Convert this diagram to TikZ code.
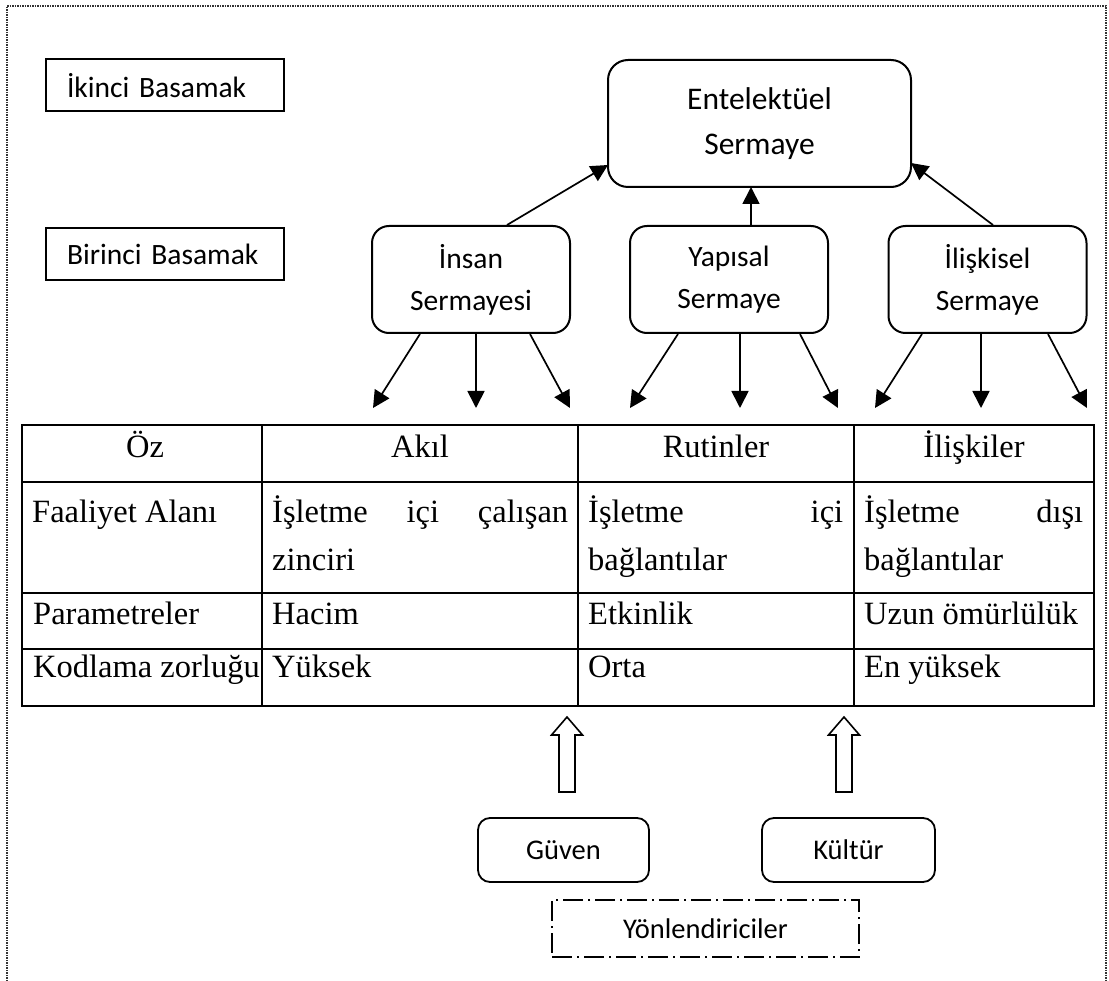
\documentclass[tikz,border=0pt]{standalone}
\usepackage{fontspec}
\setmainfont{Liberation Serif}
\newfontfamily\boxfont{Carlito}
\usetikzlibrary{arrows.meta,calc}
\begin{document}
\begin{tikzpicture}[x=1pt,y=-1pt,
  frameline/.style={line width=1.5pt, black!80, dash pattern=on 1.5pt off 1pt},
  lvlbox/.style={draw, line width=2pt, inner xsep=21pt, inner ysep=0pt,
    text width=196pt, align=left, minimum height=52pt,
    font=\boxfont\fontsize{29.5}{36}\selectfont},
  topbox/.style={draw, line width=2pt, rounded corners=20pt, inner sep=0pt,
    align=center, font=\boxfont\fontsize{31.5}{45}\selectfont},
  capbox/.style={draw, line width=2pt, rounded corners=17pt, inner sep=0pt,
    align=center, minimum width=198pt, minimum height=107pt,
    font=\boxfont\fontsize{29.5}{42}\selectfont},
  drvbox/.style={draw, line width=1.8pt, rounded corners=12pt, inner sep=0pt,
    minimum height=64pt, font=\boxfont\fontsize{28.5}{34}\selectfont},
  groupbox/.style={draw, line width=1.5pt, dash pattern=on 20pt off 5pt on 2pt off 5pt,
    inner sep=0pt, minimum width=307pt, minimum height=57pt,
    font=\boxfont\fontsize{28.5}{34}\selectfont},
  conn/.style={line width=1.7pt, -{Triangle[length=17pt,width=17pt]}},
  grid/.style={line width=2pt},
  cell/.style={anchor=base west, inner sep=0pt, font=\fontsize{32.5}{38}\selectfont},
  hcell/.style={anchor=base, inner sep=0pt, font=\fontsize{32.5}{38}\selectfont},
  blockup/.pic={\draw[line width=1.6pt, line join=miter]
    (-8,0) -- (-8,-57) -- (-15.5,-57) -- (0,-75) -- (15.5,-57) -- (8,-57) -- (8,0) -- cycle;}
]
\useasboundingbox (0,0) rectangle (1109,981);

% page frame
\draw[frameline] (7,981) -- (7,6) -- (1106,6) -- (1106,981);

% level labels
\node[lvlbox] (lvl2) at (165,85.5) {İkinci Basamak};
\node[lvlbox] (lvl1) at (165,254) {Birinci Basamak};

% capital boxes
\node[topbox, minimum width=303pt, minimum height=127pt] (ent) at (759.5,123.5) {Entelektüel\\Sermaye};
\node[capbox] (insan) at (471,279.5) {İnsan\\Sermayesi};
\node[capbox] (yapi) at (729,279.5) {Yapısal\\Sermaye};
\node[capbox] (iliski) at (987.5,279.5) {İlişkisel\\Sermaye};

% arrows towards intellectual capital
\coordinate (e1) at (608,165);
\coordinate (e2) at (751,187);
\coordinate (e3) at (911,163);
\draw[conn] (insan.north -| 507,0) -- (e1);
\draw[conn] (yapi.north -| e2) -- (e2);
\draw[conn] (iliski.north -| 993,0) -- (e3);

% arrows down to the table
\coordinate (a1) at (373,408);
\coordinate (a2) at (476,408);
\coordinate (a3) at (570,408);
\coordinate (b1) at (630,408);
\coordinate (b2) at (740,408);
\coordinate (b3) at (838,408);
\coordinate (c1) at (875,408);
\coordinate (c2) at (981,408);
\coordinate (c3) at (1087,408);
\draw[conn] (insan.south -| 420,0) -- (a1);
\draw[conn] (insan.south -| a2) -- (a2);
\draw[conn] (insan.south -| 530,0) -- (a3);
\draw[conn] (yapi.south -| 678,0) -- (b1);
\draw[conn] (yapi.south -| b2) -- (b2);
\draw[conn] (yapi.south -| 800,0) -- (b3);
\draw[conn] (iliski.south -| 922,0) -- (c1);
\draw[conn] (iliski.south -| c2) -- (c2);
\draw[conn] (iliski.south -| 1048,0) -- (c3);

% table
\draw[grid] (22,425) rectangle (1094,706);
\draw[grid] (22,482) -- (1094,482);
\draw[grid] (22,593) -- (1094,593);
\draw[grid] (22,649) -- (1094,649);
\draw[grid] (262,425) -- (262,706);
\draw[grid] (578,425) -- (578,706);
\draw[grid] (854,425) -- (854,706);

\node[hcell] (h1) at (145,457) {Öz};
\node[hcell] (h2) at (420,457) {Akıl};
\node[hcell] (h3) at (716,457) {Rutinler};
\node[hcell] (h4) at (974,457) {İlişkiler};

\node[cell] (r1c1) at (32,522) {Faaliyet Alanı};
\node[cell] (r1c2) at (272,522) {\hbox to 296pt{İşletme\hfill içi\hfill çalışan}};
\node[cell] (r1c2b) at (272,570) {zinciri};
\node[cell] (r1c3) at (588,522) {\hbox to 255pt{İşletme\hfill içi}};
\node[cell] (r1c3b) at (588,570) {bağlantılar};
\node[cell] (r1c4) at (864,522) {\hbox to 219pt{İşletme\hfill dışı}};
\node[cell] (r1c4b) at (864,570) {bağlantılar};

\node[cell] (r2c1) at (33,624) {Parametreler};
\node[cell] (r2c2) at (272,624) {Hacim};
\node[cell] (r2c3) at (588,624) {Etkinlik};
\node[cell] (r2c4) at (864,624) {Uzun ömürlülük};

\node[cell] (r3c1) at (33,677) {Kodlama zorluğu};
\node[cell] (r3c2) at (272,677) {Yüksek};
\node[cell] (r3c3) at (588,677) {Orta};
\node[cell] (r3c4) at (864,677) {En yüksek};

% drivers
\node[drvbox, minimum width=171pt] (guven) at (563.5,850) {Güven};
\node[drvbox, minimum width=173pt] (kultur) at (848.5,850) {Kültür};
\node[groupbox] (yon) at (705.5,928.5) {Yönlendiriciler};

% block arrows from the drivers up to the table
\pic at (567,792) {blockup};
\pic at (844,792) {blockup};
\end{tikzpicture}
\end{document}
